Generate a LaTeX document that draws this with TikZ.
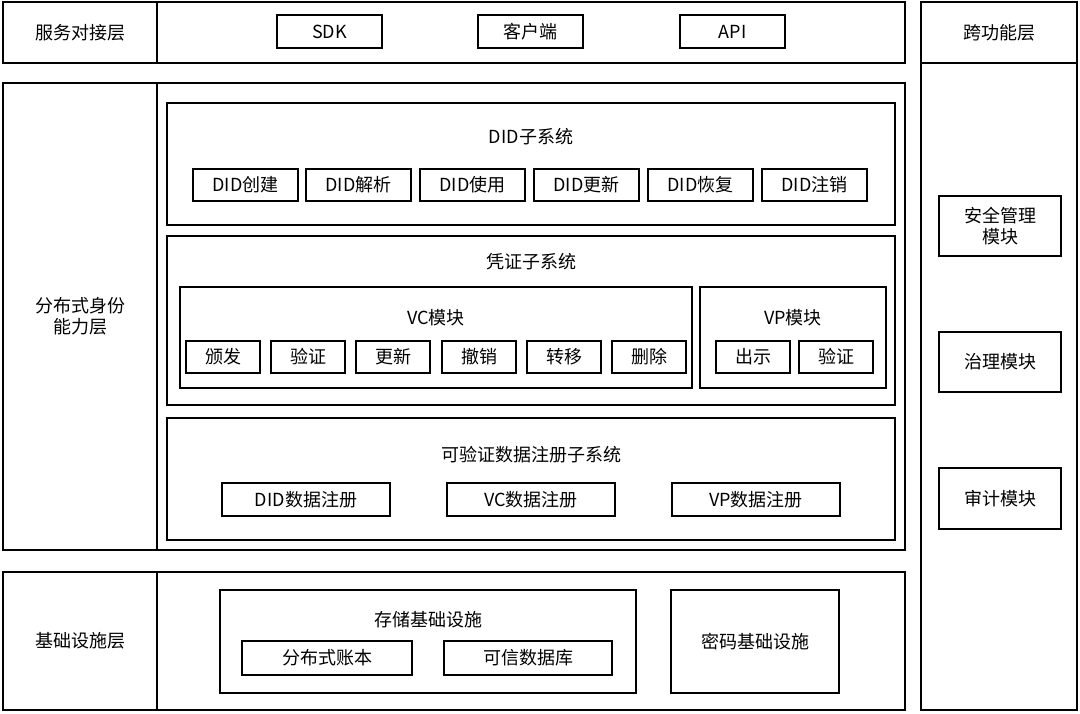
\documentclass[tikz,border=0pt]{standalone}
\usepackage{fontspec}
\setmainfont{Noto Sans CJK SC}
\usetikzlibrary{fit}
\begin{document}
\begin{tikzpicture}[x=0.75pt,y=-0.75pt,
  box/.style={draw,line width=1.5pt,inner sep=0pt},
  item/.style={draw,line width=1pt,inner sep=0pt},
  txt/.style={label={[ttl]center:#1}},
  ttl/.style={font=\fontsize{13.5}{16}\selectfont,align=center,inner sep=0pt}]
  \useasboundingbox (0,0) rectangle (1080,713);
  % layers
  \node[box,fit={(3,2) (157,63)},txt=服务对接层] (svcL) {};
  \node[box,fit={(157,2) (905,63)}] (svc) {};
  \node[box,fit={(921,2) (1077,63)},txt=跨功能层] (crossL) {};
  \node[box,fit={(921,63) (1077,710)}] (cross) {};
  \node[box,fit={(3,83) (157,550)},txt={分布式身份\\能力层}] (didL) {};
  \node[box,fit={(157,83) (905,550)}] (did) {};
  \node[box,fit={(3,572) (157,710)},txt=基础设施层] (infL) {};
  \node[box,fit={(157,572) (905,710)}] (inf) {};
  % service
  \node[item,fit={(277,15) (382,48)},txt=SDK] (sdk) {};
  \node[item,fit={(478,15) (583,48)},txt=客户端] (client) {};
  \node[item,fit={(680,15) (785,48)},txt=API] (api) {};
  % DID subsystem
  \node[item,fit={(167,103) (895,225)}] (didSub) {};
  \node[ttl] (didT) at (531,137) {DID子系统};
  \foreach \x/\t [count=\i] in {193/创建,306/解析,420/使用,534/更新,648/恢复,762/注销}
    \node[item,fit={(\x,169) (\x+105,201)},txt=DID\t] (did\i) {};
  % credential subsystem
  \node[item,fit={(167,236) (895,405)}] (vcSub) {};
  \node[ttl] (vcT) at (531,262) {凭证子系统};
  \node[item,fit={(180,287) (692,388)}] (vcMod) {};
  \node[ttl] (vcModT) at (436,318) {VC模块};
  \foreach \x/\t [count=\i] in {186/颁发,271/验证,356/更新,442/撤销,527/转移,612/删除}
    \node[item,fit={(\x,341) (\x+74,373)},txt=\t] (vc\i) {};
  \node[item,fit={(700,287) (886,388)}] (vpMod) {};
  \node[ttl] (vpModT) at (793,318) {VP模块};
  \node[item,fit={(716,341) (790,373)},txt=出示] (vp1) {};
  \node[item,fit={(799,341) (873,373)},txt=验证] (vp2) {};
  % registry subsystem
  \node[item,fit={(167,418) (895,540)}] (regSub) {};
  \node[ttl] (regT) at (531,455) {可验证数据注册子系统};
  \foreach \x/\t [count=\i] in {222/DID,447/VC,672/VP}
    \node[item,fit={(\x,483) (\x+168,516)},txt=\t 数据注册] (reg\i) {};
  % infrastructure
  \node[item,fit={(220,590) (636,693)}] (store) {};
  \node[ttl] (storeT) at (428,620) {存储基础设施};
  \node[item,fit={(242,641) (412,675)},txt=分布式账本] (ledger) {};
  \node[item,fit={(444,641) (612,675)},txt=可信数据库] (db) {};
  \node[item,fit={(671,590) (839,693)},txt=密码基础设施] (crypto) {};
  % cross-functional
  \node[item,fit={(939,196) (1061,256)},txt={安全管理\\模块}] (sec) {};
  \node[item,fit={(939,332) (1061,392)},txt=治理模块] (gov) {};
  \node[item,fit={(939,468) (1061,529)},txt=审计模块] (audit) {};
\end{tikzpicture}
\end{document}
